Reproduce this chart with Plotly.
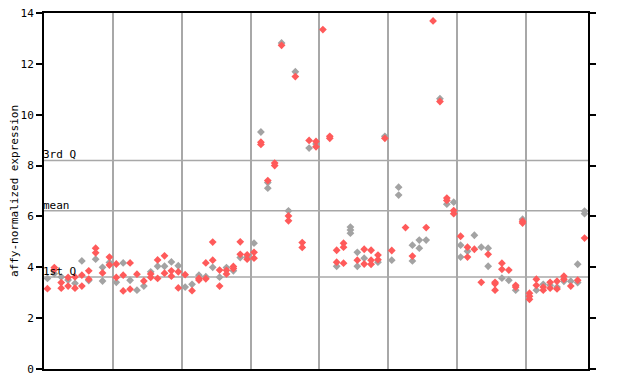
import plotly.graph_objects as go

# expression values per sample column (index 0..78)
red_values = [
    [3.16], [3.99, 3.90], [3.40, 3.18], [3.60, 3.26], [3.62, 3.18],
    [3.69, 3.26], [3.86, 3.53], [4.75, 4.57], [3.78], [4.40, 4.09],
    [4.13, 3.60], [3.69, 3.07], [4.17, 3.14], [3.73], [3.46],
    [3.74, 3.60], [4.29, 3.56], [4.45, 3.77], [3.86, 3.65], [3.82, 3.19],
    [3.71], [3.08], [3.56, 3.50], [4.17, 3.55], [4.99, 4.28],
    [3.89, 3.26], [3.88, 3.74], [4.03, 3.95], [5.00, 4.51], [4.49, 4.32],
    [4.59, 4.36], [8.92, 8.83], [7.41], [8.10, 8.00], [12.73],
    [6.02, 5.83], [11.50], [4.97, 4.78], [8.99], [8.95, 8.74],
    [13.35], [9.15, 9.07], [4.67, 4.20], [4.95, 4.79, 4.16], [],
    [4.28], [4.71, 4.13], [4.67, 4.28, 4.12], [4.48, 4.30], [9.07],
    [4.66], [], [5.56], [4.44], [],
    [5.56], [13.69], [10.52], [6.72, 6.63], [6.23, 6.11],
    [5.22], [4.79, 4.40], [4.71], [3.41], [4.51],
    [3.41, 3.35, 3.10], [4.16, 3.92], [3.89], [3.29, 3.22], [5.81, 5.74],
    [2.98, 2.86, 2.74], [3.53, 3.29], [3.22, 3.10], [3.41, 3.18], [3.45, 3.15],
    [3.65, 3.53], [3.26], [3.49], [5.15],
]
gray_values = [
    [3.56], [3.75], [3.62], [3.50], [3.37],
    [4.25], [3.48], [4.32], [4.00, 3.46], [4.19],
    [3.41], [4.17], [3.49], [3.10], [3.26],
    [3.82], [4.04], [4.04], [4.21], [4.06],
    [3.22], [3.33], [3.69], [3.63], [4.00],
    [3.61], [3.99], [3.86], [4.38], [4.40],
    [4.95], [9.32], [7.33, 7.11], [], [12.82],
    [6.22], [11.69], [], [8.69], [8.85],
    [], [], [4.04], [], [5.58, 5.47, 5.34],
    [4.59, 4.04], [4.36], [], [4.20], [9.15],
    [4.28], [7.15, 6.84], [], [4.87, 4.25], [5.07, 4.75],
    [5.07], [], [10.63], [6.48], [6.56],
    [4.87, 4.40], [4.63], [5.26], [4.79], [4.75, 4.04],
    [], [3.57], [3.49], [3.10], [5.89],
    [], [3.10], [3.33], [3.29], [3.22],
    [3.45], [3.45], [4.12, 3.40], [6.21, 6.11],
]
quartile_lines = {"3rd Q": 8.2, "mean": 6.22, "1st Q": 3.62}
y_ticks = [0, 2, 4, 6, 8, 10, 12, 14]
group_bounds = [10, 20, 30, 40, 50, 60, 70]
n_samples = 79


def flatten(values):
    xs, ys = [], []
    for i, col in enumerate(values):
        for v in col:
            xs.append(i + 0.5)
            ys.append(v)
    return xs, ys


gx, gy = flatten(gray_values)
rx, ry = flatten(red_values)

font = "DejaVu Sans Mono"
fig = go.Figure()
fig.add_trace(go.Scatter(x=gx, y=gy, mode="markers",
                         marker=dict(symbol="diamond", size=6, color="#a3a3a3"),
                         showlegend=False, cliponaxis=False))
fig.add_trace(go.Scatter(x=rx, y=ry, mode="markers",
                         marker=dict(symbol="diamond", size=6, color="#ff5a5a"),
                         showlegend=False, cliponaxis=False))

for label, val in quartile_lines.items():
    fig.add_shape(type="line", xref="x", yref="y", x0=0, x1=n_samples, y0=val, y1=val,
                  line=dict(color="#a8a8a8", width=1.5), layer="below")
    fig.add_annotation(x=0, y=val, xref="x", yref="y", text=label, showarrow=False,
                       xanchor="left", yanchor="bottom", xshift=-3, yshift=-3,
                       font=dict(family=font, size=11, color="black"))

fig.update_layout(
    width=640, height=384,
    margin=dict(l=36, r=60, t=5, b=23, autoexpand=False),
    paper_bgcolor="white", plot_bgcolor="white",
    xaxis=dict(range=[0, n_samples], tickvals=group_bounds, showticklabels=False,
               ticks="", showgrid=True, gridcolor="#a8a8a8", gridwidth=1.5,
               showline=True, linecolor="black", linewidth=2, mirror=True,
               zeroline=False, automargin=False),
    yaxis=dict(range=[0, 14], tickvals=y_ticks, ticks="outside", ticklen=6,
               tickcolor="black", tickwidth=1.5, showgrid=False, zeroline=False,
               showline=True, linecolor="black", linewidth=2, mirror="ticks",
               automargin=False, ticklabeloverflow="allow",
               tickfont=dict(family=font, size=11, color="black"),
               title=dict(text="affy-normalized expression", standoff=6,
                          font=dict(family=font, size=11, color="black"))),
)

fig.write_html("out.html")
